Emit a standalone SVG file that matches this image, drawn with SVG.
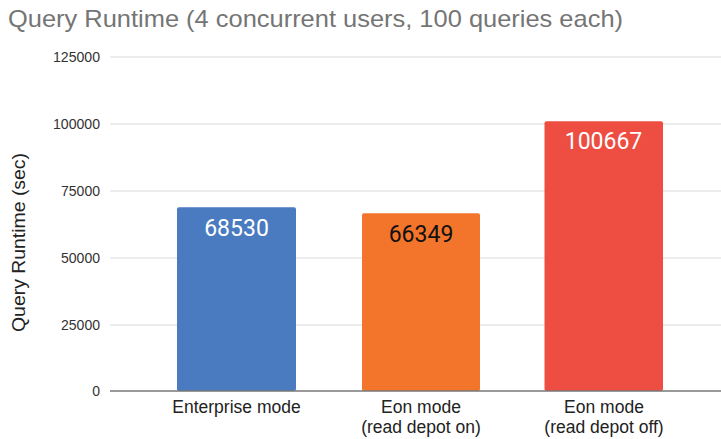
<svg xmlns="http://www.w3.org/2000/svg" width="721" height="439" viewBox="0 0 721 439">
  <style>
    .title { font-family: "Liberation Sans", Arial, sans-serif; font-size: 24px; fill: #757575; }
    .tick { font-family: "Liberation Sans", Arial, sans-serif; font-size: 14px; fill: #333333; text-anchor: end; }
    .axis-title { font-family: "Liberation Sans", Arial, sans-serif; font-size: 18px; fill: #222222; text-anchor: middle; }
    .cat { font-family: "Liberation Sans", Arial, sans-serif; font-size: 17.5px; fill: #222222; text-anchor: middle; }
    .val { font-family: Roboto, "Noto Sans", sans-serif; font-size: 23px; text-anchor: middle; }
    .grid { stroke: #d9d9d9; stroke-width: 1.2; }
    .zero { stroke: #777777; stroke-width: 1.6; }
  </style>

  <rect width="721" height="439" fill="#ffffff"/>

  <text class="title" x="8" y="27" textLength="615" lengthAdjust="spacingAndGlyphs">Query Runtime (4 concurrent users, 100 queries each)</text>

  <!-- value axis: 67 px per 25000 -->
  <g id="grid">
    <line class="grid" x1="110" y1="57" x2="721" y2="57"/>
    <line class="grid" x1="110" y1="124" x2="721" y2="124"/>
    <line class="grid" x1="110" y1="191" x2="721" y2="191"/>
    <line class="grid" x1="110" y1="258" x2="721" y2="258"/>
    <line class="grid" x1="110" y1="325" x2="721" y2="325"/>
  </g>
  <g id="ticks">
    <text class="tick" x="100" y="62" textLength="47" lengthAdjust="spacingAndGlyphs">125000</text>
    <text class="tick" x="100" y="129" textLength="47" lengthAdjust="spacingAndGlyphs">100000</text>
    <text class="tick" x="100" y="196" textLength="39" lengthAdjust="spacingAndGlyphs">75000</text>
    <text class="tick" x="100" y="263" textLength="39" lengthAdjust="spacingAndGlyphs">50000</text>
    <text class="tick" x="100" y="330" textLength="39" lengthAdjust="spacingAndGlyphs">25000</text>
    <text class="tick" x="100" y="396">0</text>
  </g>
  <text class="axis-title" transform="translate(25,242.5) rotate(-90)" textLength="179" lengthAdjust="spacingAndGlyphs">Query Runtime (sec)</text>

  <!-- bars -->
  <g id="bar-enterprise">
    <rect x="177" y="207.3" width="119" height="183.7" rx="2" fill="#4a7bc1"/>
    <text class="val" x="236.5" y="236" fill="#ffffff">68530</text>
  </g>
  <g id="bar-eon-depot-on">
    <rect x="362" y="213.2" width="118" height="177.8" rx="2" fill="#f3752b"/>
    <text class="val" x="421" y="242" fill="#111111">66349</text>
  </g>
  <g id="bar-eon-depot-off">
    <rect x="544.5" y="121.2" width="118.5" height="269.8" rx="2" fill="#ee4d42"/>
    <text class="val" x="603.5" y="149" fill="#ffffff">100667</text>
  </g>

  <line class="zero" x1="110" y1="391" x2="721" y2="391"/>

  <!-- category labels -->
  <g id="categories">
    <text class="cat" x="236.5" y="413">Enterprise mode</text>
    <text class="cat" x="421" y="413">Eon mode</text>
    <text class="cat" x="421" y="433">(read depot on)</text>
    <text class="cat" x="604" y="413">Eon mode</text>
    <text class="cat" x="604" y="433">(read depot off)</text>
  </g>
</svg>
